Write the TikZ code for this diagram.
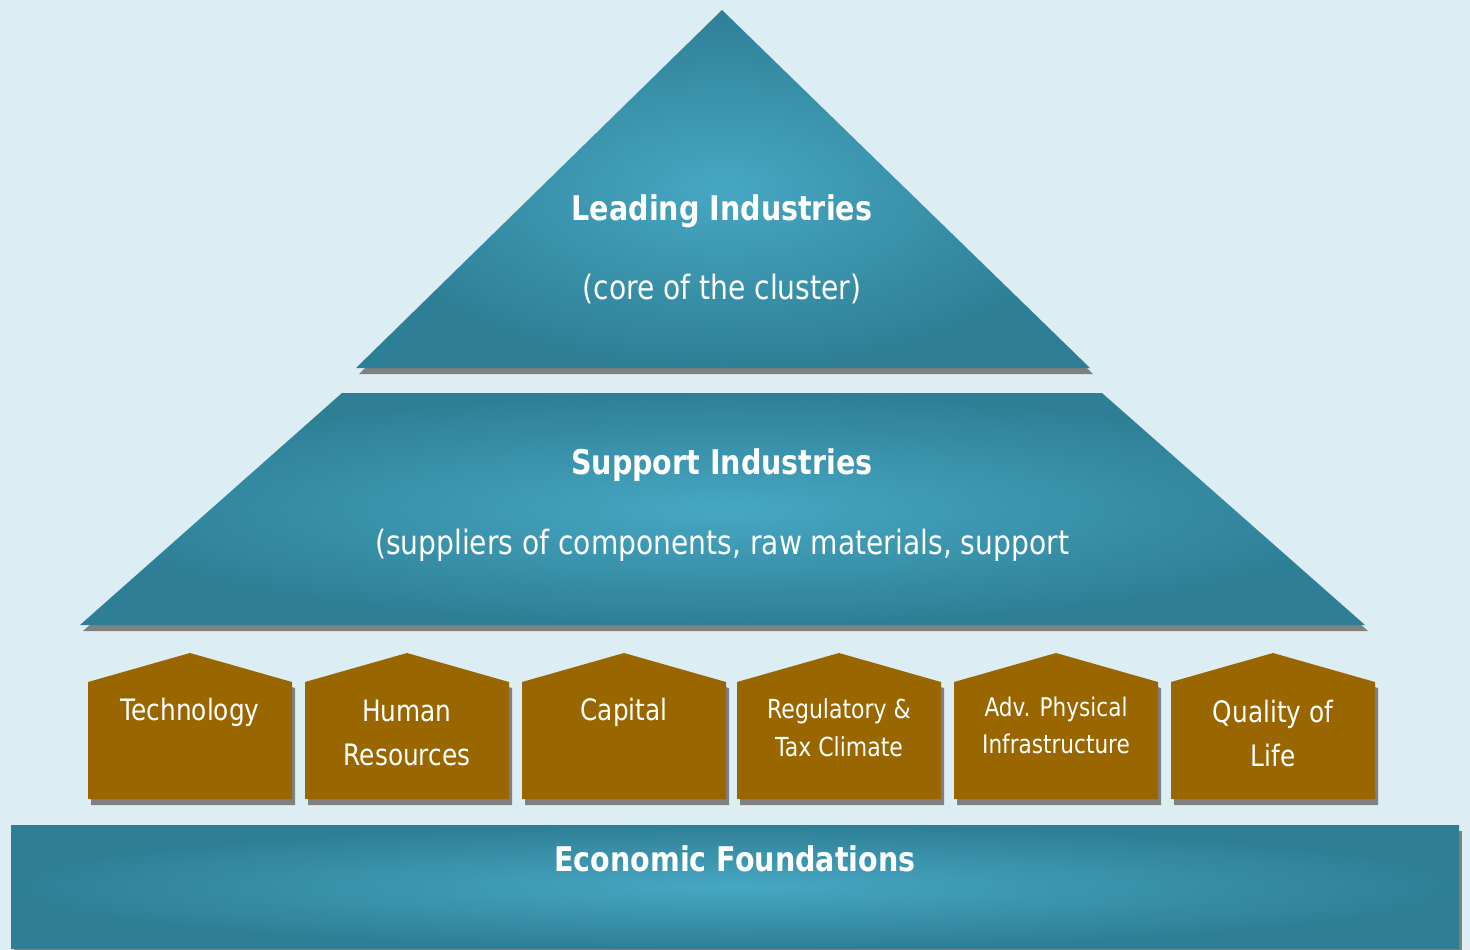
\documentclass[tikz,border=0pt]{standalone}
\usepackage{fontspec}
\setmainfont{DejaVu Sans}[FakeStretch=0.84]
\definecolor{bgc}{HTML}{DCEEF4}
\definecolor{tealout}{HTML}{2E7F96}
\definecolor{tealin}{HTML}{47A7C3}
\definecolor{brownc}{HTML}{996600}
\definecolor{shadowc}{HTML}{808080}
\tikzset{
  tealshade/.style={inner color=tealin, outer color=tealout},
  shadowfill/.style={fill=shadowc},
  housefill/.style={fill=brownc},
  bigbold/.style={text=white, font=\fontsize{34}{40}\selectfont\bfseries, inner sep=0pt},
  bigreg/.style={text=white, font=\fontsize{33.5}{40}\selectfont, inner sep=0pt},
  hlabel/.style={text=white, align=center, inner sep=0pt, font=\fontsize{29.5}{44}\selectfont},
  hlabelsmall/.style={text=white, align=center, inner sep=0pt, font=\fontsize{26.2}{38}\selectfont},
}
\newcommand{\housepath}[1]{(#1,799) -- (#1,682) -- (#1+102,653) -- (#1+204,682) -- (#1+204,799) -- cycle}
\begin{document}
\begin{tikzpicture}[x=1pt,y=-1pt]
\fill[bgc] (0,0) rectangle (1470,950);
\useasboundingbox (0,0) rectangle (1470,950);
% top triangle
\fill[shadowfill] (359,374) -- (725,16) -- (1093,374) -- cycle;
\shade[tealshade] (356,368) -- (722,10) -- (1090,368) -- cycle;
\node[bigbold] (lead) at (722,211) {Leading Industries};
\node[bigreg] (leadsub) at (722,289) {(core of the cluster)};
% trapezoid
\fill[shadowfill] (345,399) -- (1105,399) -- (1368,631) -- (83,631) -- cycle;
\shade[tealshade] (342,393) -- (1102,393) -- (1365,625) -- (80,625) -- cycle;
\node[bigbold] (supp) at (722,465) {Support Industries};
\node[bigreg] (suppsub) at (722,545) {(suppliers of components, raw materials, support};
% houses
\foreach \L in {88,305,522,737,954,1171}{
  \fill[shadowfill, shift={(3,6)}] \housepath{\L};
  \fill[housefill] \housepath{\L};
}
\node[hlabel] (tech) at (190,712) {Technology};
\node[hlabel] (hr) at (407,733) {Human\\Resources};
\node[hlabel] (cap) at (624,712) {Capital};
\node[hlabelsmall] (reg) at (839,728) {Regulatory \&\\Tax Climate};
\node[hlabelsmall, font=\fontsize{25.7}{37}\selectfont] (adv) at (1056,725) {Adv. Physical\\Infrastructure};
\node[hlabel] (qol) at (1273,733) {Quality of\\Life};
% foundation
\fill[shadowfill] (14,831) rectangle (1462,951);
\shade[tealshade] (11,825) rectangle (1459,948);
\node[bigbold] (econ) at (735,859) {Economic Foundations};
\end{tikzpicture}
\end{document}
